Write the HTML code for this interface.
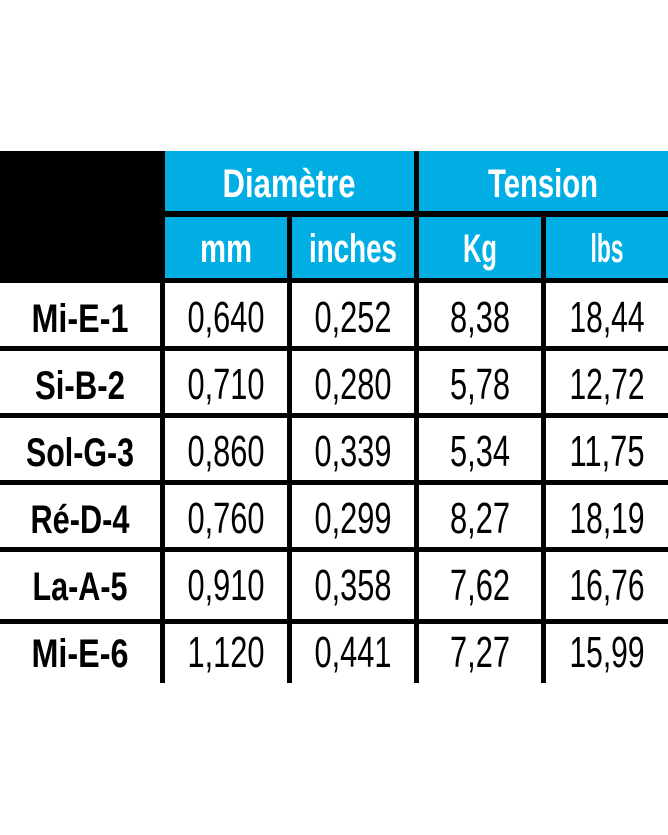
<!DOCTYPE html>
<html><head><meta charset="utf-8"><style>
html,body{margin:0;padding:0;background:#fff;}
svg{display:block;}
.h{font-family:"Liberation Sans Narrow","Liberation Sans",sans-serif;font-weight:bold;fill:#fff;font-size:40px;}
.l{font-family:"Liberation Sans Narrow","Liberation Sans",sans-serif;font-weight:bold;fill:#000;font-size:40px;}
.n{font-family:"Liberation Sans Narrow","Liberation Sans",sans-serif;font-weight:normal;fill:#000;font-size:44px;}
</style></head><body>
<svg width="668" height="835" viewBox="0 0 668 835" xmlns="http://www.w3.org/2000/svg">
<rect x="0" y="0" width="668" height="835" fill="#fff"/>
<!-- header -->
<rect x="0" y="151" width="668" height="132" fill="#000"/>
<rect x="165" y="151" width="249" height="60" fill="#00AEE3"/>
<rect x="419" y="151" width="249" height="60" fill="#00AEE3"/>
<rect x="165" y="217" width="122" height="61" fill="#00AEE3"/>
<rect x="292" y="217" width="122" height="61" fill="#00AEE3"/>
<rect x="419" y="217" width="122" height="61" fill="#00AEE3"/>
<rect x="546" y="217" width="122" height="61" fill="#00AEE3"/>
<text class="h" x="289" y="197" text-anchor="middle" textLength="133" lengthAdjust="spacingAndGlyphs">Diamètre</text>
<text class="h" x="543" y="197" text-anchor="middle" textLength="110" lengthAdjust="spacingAndGlyphs">Tension</text>
<text class="h" x="226" y="262" text-anchor="middle" textLength="52" lengthAdjust="spacingAndGlyphs">mm</text>
<text class="h" x="353" y="262" text-anchor="middle" textLength="88" lengthAdjust="spacingAndGlyphs">inches</text>
<text class="h" x="480" y="262" text-anchor="middle" textLength="34" lengthAdjust="spacingAndGlyphs">Kg</text>
<text class="h" x="607" y="262" text-anchor="middle" textLength="33" lengthAdjust="spacingAndGlyphs">lbs</text>
<!-- grid -->
<g fill="#000">
<rect x="160" y="283" width="5" height="400"/>
<rect x="287" y="283" width="5" height="400"/>
<rect x="414" y="283" width="5" height="400"/>
<rect x="541" y="283" width="5" height="400"/>
<rect x="0" y="346" width="668" height="5"/>
<rect x="0" y="413" width="668" height="5"/>
<rect x="0" y="480" width="668" height="5"/>
<rect x="0" y="547" width="668" height="5"/>
<rect x="0" y="619" width="668" height="5"/>
</g>
<g>
<text class="l" x="80" y="332" text-anchor="middle" textLength="97" lengthAdjust="spacingAndGlyphs">Mi-E-1</text>
<text class="l" x="80" y="399" text-anchor="middle" textLength="90" lengthAdjust="spacingAndGlyphs">Si-B-2</text>
<text class="l" x="80" y="466" text-anchor="middle" textLength="108" lengthAdjust="spacingAndGlyphs">Sol-G-3</text>
<text class="l" x="80" y="533" text-anchor="middle" textLength="99" lengthAdjust="spacingAndGlyphs">Ré-D-4</text>
<text class="l" x="80" y="600" text-anchor="middle" textLength="95" lengthAdjust="spacingAndGlyphs">La-A-5</text>
<text class="l" x="80" y="667" text-anchor="middle" textLength="97" lengthAdjust="spacingAndGlyphs">Mi-E-6</text>
</g>
<g class="n">
<text class="n" x="226" y="332" text-anchor="middle" textLength="77" lengthAdjust="spacingAndGlyphs">0,640</text>
<text class="n" x="353" y="332" text-anchor="middle" textLength="77" lengthAdjust="spacingAndGlyphs">0,252</text>
<text class="n" x="480" y="332" text-anchor="middle" textLength="60" lengthAdjust="spacingAndGlyphs">8,38</text>
<text class="n" x="607" y="332" text-anchor="middle" textLength="75" lengthAdjust="spacingAndGlyphs">18,44</text>

<text class="n" x="226" y="399" text-anchor="middle" textLength="77" lengthAdjust="spacingAndGlyphs">0,710</text>
<text class="n" x="353" y="399" text-anchor="middle" textLength="77" lengthAdjust="spacingAndGlyphs">0,280</text>
<text class="n" x="480" y="399" text-anchor="middle" textLength="60" lengthAdjust="spacingAndGlyphs">5,78</text>
<text class="n" x="607" y="399" text-anchor="middle" textLength="75" lengthAdjust="spacingAndGlyphs">12,72</text>

<text class="n" x="226" y="466" text-anchor="middle" textLength="77" lengthAdjust="spacingAndGlyphs">0,860</text>
<text class="n" x="353" y="466" text-anchor="middle" textLength="77" lengthAdjust="spacingAndGlyphs">0,339</text>
<text class="n" x="480" y="466" text-anchor="middle" textLength="60" lengthAdjust="spacingAndGlyphs">5,34</text>
<text class="n" x="607" y="466" text-anchor="middle" textLength="75" lengthAdjust="spacingAndGlyphs">11,75</text>

<text class="n" x="226" y="533" text-anchor="middle" textLength="77" lengthAdjust="spacingAndGlyphs">0,760</text>
<text class="n" x="353" y="533" text-anchor="middle" textLength="77" lengthAdjust="spacingAndGlyphs">0,299</text>
<text class="n" x="480" y="533" text-anchor="middle" textLength="60" lengthAdjust="spacingAndGlyphs">8,27</text>
<text class="n" x="607" y="533" text-anchor="middle" textLength="75" lengthAdjust="spacingAndGlyphs">18,19</text>

<text class="n" x="226" y="600" text-anchor="middle" textLength="77" lengthAdjust="spacingAndGlyphs">0,910</text>
<text class="n" x="353" y="600" text-anchor="middle" textLength="77" lengthAdjust="spacingAndGlyphs">0,358</text>
<text class="n" x="480" y="600" text-anchor="middle" textLength="60" lengthAdjust="spacingAndGlyphs">7,62</text>
<text class="n" x="607" y="600" text-anchor="middle" textLength="75" lengthAdjust="spacingAndGlyphs">16,76</text>

<text class="n" x="226" y="667" text-anchor="middle" textLength="77" lengthAdjust="spacingAndGlyphs">1,120</text>
<text class="n" x="353" y="667" text-anchor="middle" textLength="77" lengthAdjust="spacingAndGlyphs">0,441</text>
<text class="n" x="480" y="667" text-anchor="middle" textLength="60" lengthAdjust="spacingAndGlyphs">7,27</text>
<text class="n" x="607" y="667" text-anchor="middle" textLength="75" lengthAdjust="spacingAndGlyphs">15,99</text>
</g>
</svg>
</body></html>
